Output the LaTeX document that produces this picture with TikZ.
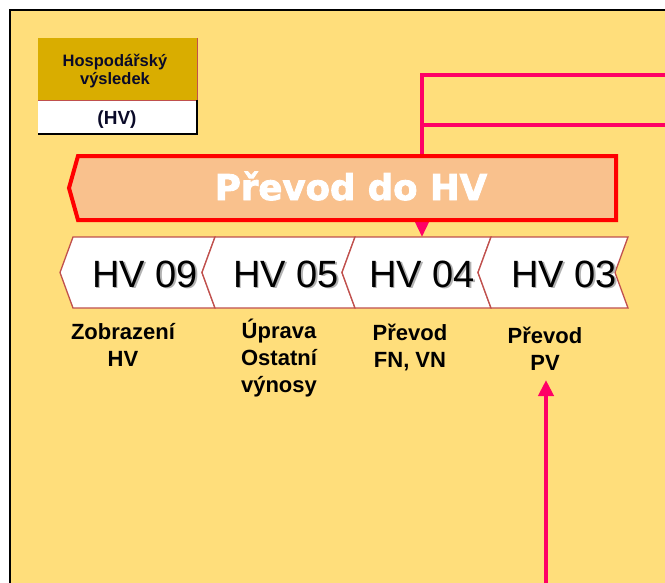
\documentclass[tikz,border=0pt]{standalone}
\usepackage{fontspec}
\setmainfont{Liberation Sans}
\newfontfamily\heavyfont{DejaVu Sans Bold}[FakeBold=2.4]
\usetikzlibrary{arrows.meta}

\definecolor{bgyellow}{HTML}{FFDE7B}
\definecolor{legendgold}{HTML}{D9AD00}
\definecolor{legendink}{HTML}{0A0A28}
\definecolor{bannerfill}{HTML}{F9C18D}
\definecolor{bannerred}{HTML}{FF0000}
\definecolor{feedpink}{HTML}{FF0066}
\definecolor{chevred}{HTML}{C0504D}

\tikzset{
  chevron/.style={draw=chevred, line width=1.3pt, fill=white, line join=miter},
  hvtext/.style={font=\fontsize{38}{40}\selectfont, text=black, inner sep=0pt},
  hvshadow/.style={hvtext, text=black!30},
  caption/.style={font=\bfseries\fontsize{22}{27}\selectfont, align=center, anchor=base, inner sep=0pt},
  legendtxt/.style={font=\bfseries\fontsize{16.5}{18}\selectfont, text=legendink, align=center, anchor=base, inner sep=0pt},
  feed/.style={draw=feedpink, line width=3.5pt},
  feedarrow/.style={feed, -{Triangle[length=16pt,width=14pt]}},
  banner/.style={draw=bannerred, line width=4pt, fill=bannerfill, line join=miter},
  bannertext/.style={font=\heavyfont\fontsize{35.5}{40}\selectfont, text=white, anchor=base, inner sep=0pt}
}

% one step of the process ribbon: name, tip x, notch x, text x, label
\newcommand\chevstep[5]{%
  \draw[chevron] (#2,272.5) -- (#2+13,237) -- (#3+13,237) -- (#3,272.5)
    -- (#3+13,308) -- (#2+13,308) -- cycle;
  \node[hvshadow] (#1s) at (#4+1.5,275.5) {#5};
  \node[hvtext] (#1) at (#4,274) {#5};
}

\begin{document}
\begin{tikzpicture}[x=1pt,y=-1pt]
\useasboundingbox (0,0) rectangle (665,582);
\fill[white] (0,0) rectangle (665,582);

\coordinate (feedA) at (422,75);
\coordinate (feedAend) at (672,75);
\coordinate (feedB) at (422,125);
\coordinate (feedBend) at (672,125);
\coordinate (hv04top) at (422,237);
\coordinate (pvsrc) at (546,590);
\coordinate (pvtip) at (546,380);

\begin{scope}
  \clip (0,0) rectangle (665,582);
  \fill[bgyellow] (10,10) rectangle (672,590);
  \draw[black, line width=1.5pt] (10,590) -- (10,10) -- (672,10);
  % feed lines from the right
  \draw[feedarrow] (feedAend) -- (feedA) -- (hv04top);
  \draw[feed] (feedBend) -- (feedB);
  \draw[feed, line width=4pt, -{Triangle[length=16pt,width=15pt]}] (pvsrc) -- (pvtip);
\end{scope}

% legend box
\fill[legendgold] (38,38) rectangle (197,100);
\fill[white] (38,100) rectangle (197,134);
\draw[chevred, line width=1pt] (197,38) -- (197,100) -- (38,100);
\draw[black, line width=1.2pt] (197,100) -- (197,134) -- (38,134);
\node[legendtxt] (legtitle) at (115,84) {Hospodářský\\výsledek};
\node[legendtxt, font=\bfseries\fontsize{19}{20}\selectfont] (legabbr) at (117,124) {(HV)};

% banner arrow
\draw[banner] (78,156) -- (616,156) -- (616,220) -- (78,220) -- (69,188) -- cycle;
\node[bannertext] (bannerlbl) at (351,200) {Převod do HV};

% process steps
\chevstep{hv09}{60}{202}{145}{HV 09}
\chevstep{hv05}{202}{342}{286}{HV 05}
\chevstep{hv04}{342}{478}{422}{HV 04}
\chevstep{hv03}{478}{615}{564}{HV 03}

% captions (anchored on the baseline of the last line)
\node[caption] (cap09) at (123,366) {Zobrazení\\HV};
\node[caption] (cap05) at (279,392) {Úprava\\Ostatní\\výnosy};
\node[caption] (cap04) at (410,367) {Převod\\FN, VN};
\node[caption] (cap03) at (545,370) {Převod\\PV};
\end{tikzpicture}
\end{document}
